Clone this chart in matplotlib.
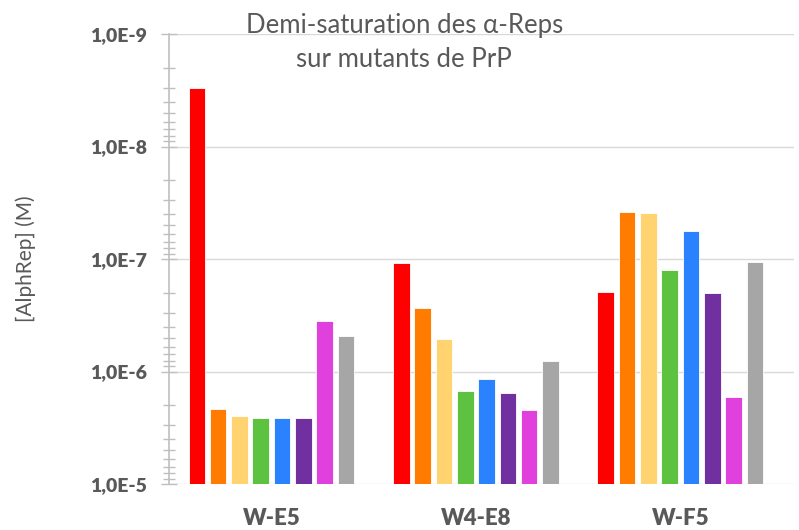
import numpy as np
import matplotlib.pyplot as plt
from matplotlib.ticker import LogLocator, FixedLocator

plt.rcParams['font.family'] = ['Lato', 'DejaVu Sans']

# donnees (M)
mutants = ["W-E5", "W4-E8", "W-F5"]
couleurs = ["#FF0000", "#FF7C00", "#FFD470", "#5DC23F",
            "#2A82FF", "#7030A0", "#E040DC", "#A6A6A6"]
rep1 = [3.0e-9, 1.09e-7, 1.95e-7]
rep2 = [2.14e-6, 2.74e-7, 3.8e-8]
rep3 = [2.47e-6, 5.1e-7, 3.9e-8]
rep4 = [2.58e-6, 1.48e-6, 1.24e-7]
rep5 = [2.58e-6, 1.17e-6, 5.6e-8]
rep6 = [2.58e-6, 1.54e-6, 1.99e-7]
rep7 = [3.56e-7, 2.18e-6, 1.70e-6]
rep8 = [4.81e-7, 8.1e-7, 1.07e-7]
series = [rep1, rep2, rep3, rep4, rep5, rep6, rep7, rep8]
yticks = [1e-5, 1e-6, 1e-7, 1e-8, 1e-9]
ylabels = ["1,0E-5", "1,0E-6", "1,0E-7", "1,0E-8", "1,0E-9"]

gris = "#595959"
fig = plt.figure(figsize=(7.99, 5.30), dpi=100)
ax = fig.add_axes([0.2115, 0.0868, 0.782, 0.849])

x = np.arange(len(mutants))
pas = 0.1042
base = 1e-5
for i, (vals, c) in enumerate(zip(series, couleurs)):
    vals = np.array(vals)
    ax.bar(x + (i - 3.5) * pas, base - vals, bottom=vals, width=0.081,
           color=c, edgecolor="white", linewidth=0.6, zorder=3)

ax.set_yscale("log")
ax.set_ylim(1e-5, 1e-9)
ax.set_xlim(-0.501, 2.555)

ax.yaxis.set_major_locator(FixedLocator(yticks))
ax.set_yticklabels(ylabels)
ax.yaxis.set_minor_locator(LogLocator(base=10, subs=np.arange(2, 10)))
ax.yaxis.set_minor_formatter(plt.NullFormatter())
ax.tick_params(axis="y", which="major", direction="inout", length=12,
               color="#BFBFBF", width=1, labelsize=14, labelcolor=gris, pad=10)
ax.tick_params(axis="y", which="minor", direction="inout", length=9,
               color="#BFBFBF", width=1)
for lab in ax.get_yticklabels():
    lab.set_fontweight("heavy")

ax.set_xticks(x)
ax.set_xticklabels(mutants, fontsize=16, fontweight="heavy", color=gris)
ax.tick_params(axis="x", length=0, pad=17)

ax.grid(axis="y", which="major", color="#D9D9D9", linewidth=1, zorder=0)
for s in ["top", "right", "bottom"]:
    ax.spines[s].set_visible(False)
ax.spines["left"].set_color("#BFBFBF")
ax.spines["left"].set_linewidth(1.2)

ax.set_ylabel("[AlphRep] (M)", fontsize=15, color=gris)
ax.yaxis.set_label_coords(-0.213, 0.5)

fig.text(0.506, 0.92, "Demi-saturation des \u03b1-Reps\nsur mutants de PrP",
         ha="center", va="center", fontsize=18.5, color=gris, linespacing=1.42)

fig.savefig("out.png", dpi=100)
